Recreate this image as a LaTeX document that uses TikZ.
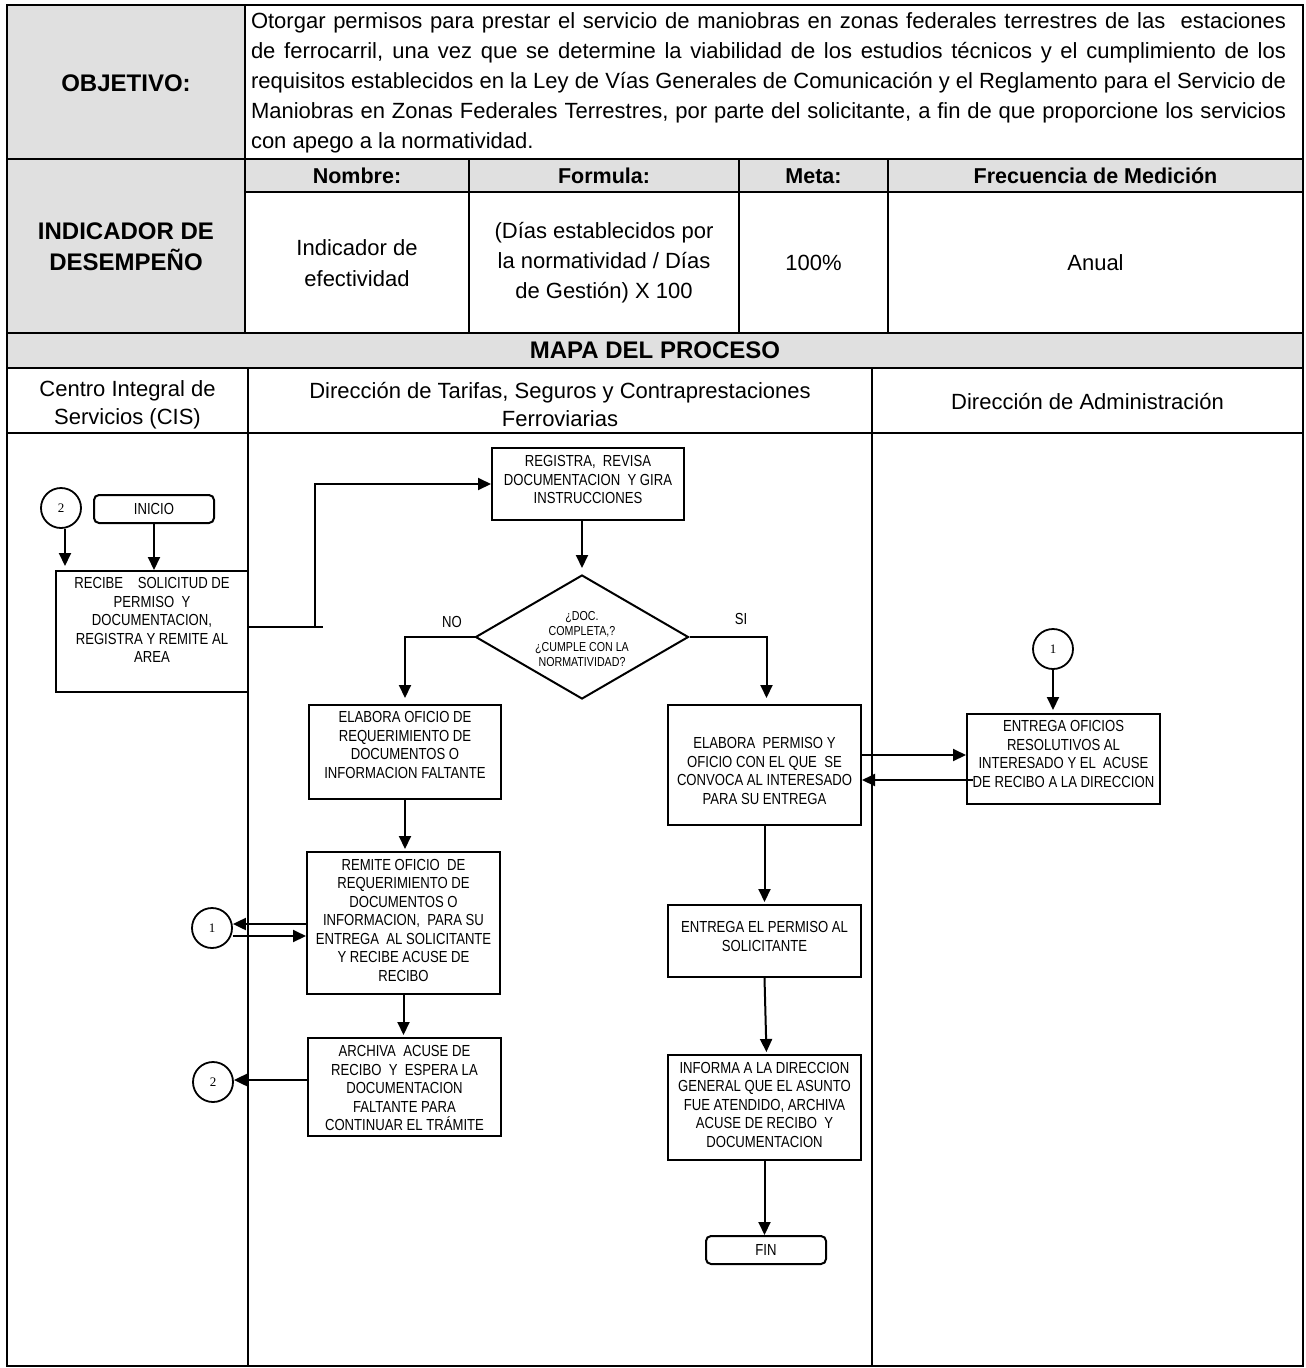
\documentclass[tikz,border=0pt]{standalone}
\usepackage{fontspec}
\setmainfont{Liberation Sans}
\newfontfamily\narrowfont[FakeStretch=0.82]{Liberation Sans}
\newfontfamily\numfont{Liberation Serif}
\usetikzlibrary{arrows.meta,shapes.geometric,calc}
\definecolor{hdrgray}{RGB}{224,224,224}
\tikzset{
  tline/.style={line width=2pt},
  stepbox/.style={draw, line width=2pt, rectangle, inner sep=0pt, fill=white},
  btext/.style={font=\narrowfont\fontsize{16pt}{18.5pt}\selectfont, align=center, inner sep=0pt},
  dtext/.style={font=\narrowfont\fontsize{13pt}{15.3pt}\selectfont, align=center, inner sep=0pt},
  lbl/.style={font=\narrowfont\fontsize{16pt}{18pt}\selectfont, inner sep=0pt},
  conn/.style={circle, draw, line width=1.8pt, minimum size=40pt, inner sep=0pt, fill=white, font=\numfont\fontsize{13pt}{15pt}\selectfont},
  term/.style={draw, line width=2pt, rounded corners=5pt, minimum width=120pt, minimum height=28pt, inner sep=0pt, font=\narrowfont\fontsize{16pt}{18pt}\selectfont},
  arr/.style={line width=2pt, -{Triangle[length=13pt,width=12pt]}},
  bigbold/.style={font=\bfseries\fontsize{24pt}{31pt}\selectfont, align=center, inner sep=0pt},
  hdrtext/.style={font=\bfseries\fontsize{21.5pt}{26pt}\selectfont, inner sep=0pt},
  celltext/.style={font=\fontsize{22pt}{30pt}\selectfont, align=center, inner sep=0pt},
}
\begin{document}
\begin{tikzpicture}[x=1pt,y=-1pt]
\useasboundingbox (0,0) rectangle (1306,1368);
% ---------- table fills ----------
\fill[hdrgray] (7,5) rectangle (245,333);
\fill[hdrgray] (245,159) rectangle (1303,192);
\fill[hdrgray] (7,333) rectangle (1303,368);
% ---------- table lines ----------
\draw[tline] (7,5) rectangle (1303,1366);
\draw[tline] (7,159) -- (1303,159);
\draw[tline] (245,192) -- (1303,192);
\draw[tline] (7,333) -- (1303,333);
\draw[tline] (7,368) -- (1303,368);
\draw[tline] (7,433) -- (1303,433);
\draw[tline] (245,5) -- (245,333);
\draw[tline] (469,159) -- (469,333);
\draw[tline] (739,159) -- (739,333);
\draw[tline] (888,159) -- (888,333);
\draw[tline] (248,368) -- (248,1366);
\draw[tline] (872,368) -- (872,1366);
% ---------- table texts ----------
\node[bigbold] (objlbl) at (126,83) {OBJETIVO:};
\node[anchor=center, text width=1035pt, align=justify, inner sep=0pt,
      font=\fontsize{22pt}{30pt}\selectfont] (objtxt) at (768.5,83)
 {\hyphenpenalty=10000\exhyphenpenalty=10000 Otorgar permisos para prestar el servicio de maniobras en zonas federales terrestres de las \ estaciones\linebreak
 de ferrocarril, una vez que se determine la viabilidad de los estudios técnicos y el cumplimiento de los\linebreak
 requisitos establecidos en la Ley de Vías Generales de Comunicación y el Reglamento para el Servicio de\linebreak
 Maniobras en Zonas Federales Terrestres, por parte del solicitante, a fin de que proporcione los servicios\linebreak
 con apego a la normatividad.};
\node[bigbold] (indlbl) at (126,247) {INDICADOR DE\\DESEMPEÑO};
\node[hdrtext] (hnombre) at (357,176) {Nombre:};
\node[hdrtext] (hformula) at (604,176) {Formula:};
\node[hdrtext] (hmeta) at (813.5,176) {Meta:};
\node[hdrtext] (hfrec) at (1095.5,176) {Frecuencia de Medición};
\node[celltext, font=\fontsize{22pt}{31pt}\selectfont] (vnombre) at (357,263.5) {Indicador de\\efectividad};
\node[celltext] (vformula) at (604,263) {(Días establecidos por\\la normatividad / Días\\de Gestión) X 100};
\node[celltext] (vmeta) at (813.5,263) {100\%};
\node[celltext] (vfrec) at (1095.5,263) {Anual};
\node[bigbold] (mapa) at (655,350) {MAPA DEL PROCESO};
\node[celltext, font=\fontsize{22pt}{28pt}\selectfont] (lane1) at (127.5,405) {Centro Integral de\\Servicios (CIS)};
\node[celltext, font=\fontsize{22pt}{28pt}\selectfont] (lane2) at (560,405) {Dirección de Tarifas, Seguros y Contraprestaciones\\Ferroviarias};
\node[celltext] (lane3) at (1087.5,402) {Dirección de Administración};
% ---------- flowchart nodes ----------
\node[conn] (c2a) at (61,508) {2};
\node[term] (inicio) at (154,509) {INICIO};
\node[stepbox, minimum width=192pt, minimum height=121pt] (recibe) at (152,631.5) {};
\node[btext] (recibeT) at (152,620) {RECIBE \ \ \ SOLICITUD DE\\PERMISO \ Y\\DOCUMENTACION,\\REGISTRA Y REMITE AL\\AREA};
\node[stepbox, minimum width=192pt, minimum height=72pt] (registra) at (588,484) {};
\node[btext] (registraT) at (588,479.5) {REGISTRA, \ REVISA\\DOCUMENTACION \ Y GIRA\\INSTRUCCIONES};
\node[draw, diamond, line width=2pt, minimum width=213pt, minimum height=124pt, inner sep=0pt] (dec) at (582,637) {};
\begin{scope}
\clip (470,600) rectangle (700,665);
\node[dtext] (decT) at (582,639) {¿DOC.\\COMPLETA,?\\¿CUMPLE CON LA\\NORMATIVIDAD?};
\end{scope}
\node[lbl] (nolbl) at (452,622) {NO};
\node[lbl] (silbl) at (741,619) {SI};
\node[stepbox, minimum width=192pt, minimum height=94pt] (oficio) at (405,752) {};
\node[btext] (oficioT) at (405,745) {ELABORA OFICIO DE\\REQUERIMIENTO DE\\DOCUMENTOS O\\INFORMACION FALTANTE};
\node[stepbox, minimum width=193pt, minimum height=120pt] (permiso) at (764.5,765) {};
\node[btext] (permisoT) at (764.5,771) {ELABORA \ PERMISO Y\\OFICIO CON EL QUE \ SE\\CONVOCA AL INTERESADO\\PARA SU ENTREGA};
\node[conn] (c1r) at (1053,649) {1};
\node[stepbox, minimum width=193pt, minimum height=90pt] (entregaof) at (1063.5,759) {};
\node[btext] (entregaofT) at (1063.5,754) {ENTREGA OFICIOS\\RESOLUTIVOS AL\\INTERESADO Y EL \ ACUSE\\DE RECIBO A LA DIRECCION};
\node[stepbox, minimum width=193pt, minimum height=142pt] (remite) at (403.5,923) {};
\node[btext] (remiteT) at (403.5,920) {REMITE OFICIO \ DE\\REQUERIMIENTO DE\\DOCUMENTOS O\\INFORMACION, \ PARA SU\\ENTREGA \ AL SOLICITANTE\\Y RECIBE ACUSE DE\\RECIBO};
\node[conn] (c1l) at (212,928) {1};
\node[stepbox, minimum width=193pt, minimum height=98pt] (archiva) at (404.5,1087) {};
\node[btext] (archivaT) at (404.5,1088) {ARCHIVA \ ACUSE DE\\RECIBO \ Y \ ESPERA LA\\DOCUMENTACION\\FALTANTE PARA\\CONTINUAR EL TRÁMITE};
\node[conn] (c2b) at (213,1082) {2};
\node[stepbox, minimum width=193pt, minimum height=72pt] (entregaperm) at (764.5,941) {};
\node[btext] (entregapermT) at (764.5,936.5) {ENTREGA EL PERMISO AL\\SOLICITANTE};
\node[stepbox, minimum width=193pt, minimum height=105pt] (informa) at (764.5,1107.5) {};
\node[btext] (informaT) at (764.5,1104.5) {INFORMA A LA DIRECCION\\GENERAL QUE EL ASUNTO\\FUE ATENDIDO, ARCHIVA\\ACUSE DE RECIBO \ Y\\DOCUMENTACION};
\node[term] (fin) at (766,1250) {FIN};
% ---------- connectors ----------
\coordinate (rj) at (315,627);
\coordinate (ya) at (0,755);
\coordinate (yb) at (0,780);
\coordinate (eo7) at ([xshift=7pt]entregaof.west);
\draw[arr, shorten >=4pt] ([xshift=4pt]c2a.south) -- ([xshift=4pt]c2a.south |- recibe.north);
\draw[arr] (inicio.south) -- (inicio.south |- recibe.north);
\draw[tline] (recibe.east |- rj) -- ($(rj)+(8,0)$);
\draw[arr] (rj) |- (registra.west);
\draw[arr, shorten >=6pt] (dec.north |- registra.south) -- (dec.north);
\draw[arr, shorten >=6pt] (dec.west) -| (oficio.north);
\draw[arr, shorten >=6pt] (dec.east) -| ([xshift=2pt]permiso.north);
\draw[arr, shorten >=2pt] (oficio.south) -- (oficio.south |- remite.north);
\draw[arr] ([yshift=-1pt]remite.west) -- ([yshift=4pt]c1l.east);
\draw[arr] ([yshift=-8pt]c1l.east) -- ([yshift=-13pt]remite.west);
\draw[arr, shorten >=2pt] (remite.south) -- (remite.south |- archiva.north);
\draw[arr] ([yshift=7pt]archiva.west) -- ([yshift=2pt]c2b.east);
\draw[arr, shorten >=2pt] (permiso.south) -- (entregaperm.north);
\draw[arr, shorten >=2pt] (entregaperm.south) -- ([xshift=2pt]informa.north);
\draw[arr] (informa.south) -- (informa.south |- fin.north);
\draw[arr, shorten >=3pt] (c1r.south) -- (c1r.south |- entregaof.north);
\draw[arr] (permiso.east |- ya) -- (entregaof.west |- ya);
\draw[arr] (eo7 |- yb) -- (permiso.east |- yb);
\end{tikzpicture}
\end{document}
